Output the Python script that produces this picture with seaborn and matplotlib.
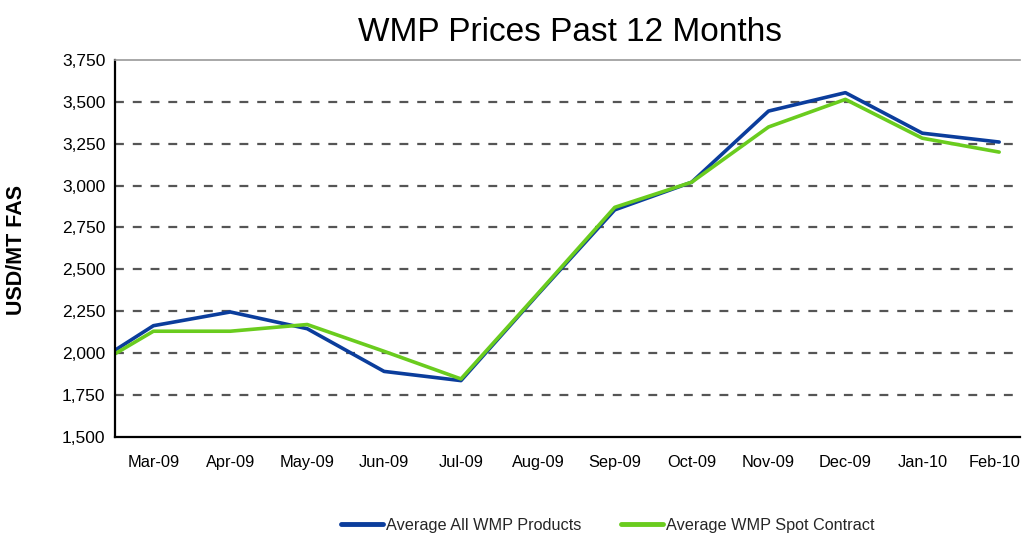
import numpy as np
import pandas as pd
import seaborn as sns
import matplotlib.pyplot as plt
import matplotlib.transforms as mtransforms
from matplotlib.ticker import FuncFormatter

# month labels shown under the axis (values sit mid-month)
months = ["Mar-09", "Apr-09", "May-09", "Jun-09", "Jul-09", "Aug-09",
          "Sep-09", "Oct-09", "Nov-09", "Dec-09", "Jan-10", "Feb-10"]

# Feb-09 lead-in value, clipped by the axis at the start of March
all_products = [1870, 2163, 2245, 2145, 1890, 1835, 2350, 2855, 3020, 3445, 3555, 3313, 3260]
spot_contract = [1860, 2130, 2130, 2170, 2010, 1845, 2355, 2870, 3020, 3350, 3515, 3283, 3200]

series_names = ["Average All WMP Products", "Average WMP Spot Contract"]
colors = ["#0b3d9c", "#6acc1e"]

# long form table for seaborn
pos = np.arange(len(all_products)) - 0.5
df = pd.DataFrame({
    "pos": np.concatenate([pos, pos]),
    "price": all_products + spot_contract,
    "series": [series_names[0]] * len(pos) + [series_names[1]] * len(pos),
})

sns.set_style("white")
plt.rcParams["font.family"] = ["Liberation Sans", "DejaVu Sans"]

fig = plt.figure(figsize=(10.23, 5.33), dpi=100)
ax = fig.add_axes([0.1124, 0.1807, 0.8846, 0.7067])

sns.lineplot(data=df, x="pos", y="price", hue="series", palette=colors,
             linewidth=2.6, ax=ax, legend=False, sort=False)

ax.set_xlim(0, 11.77)
ax.set_ylim(1500, 3750)

# month boundaries as ticks, labels centred between them
ax.set_xticks(np.arange(0, 12))
ax.set_xticklabels([])
ax.set_xticks(np.arange(len(months)) + 0.5, minor=True)
ax.set_xticklabels(months, minor=True, fontsize=11.8, color="black")
ax.tick_params(axis="x", which="major", direction="out", length=7, width=1.2, color="black")
ax.tick_params(axis="x", which="minor", length=0, pad=13)
# nudge the last label so it stays inside the canvas
last = ax.get_xticklabels(minor=True)[-1]
last.set_transform(last.get_transform() + mtransforms.ScaledTranslation(-5 / 100, 0, fig.dpi_scale_trans))

yt = np.arange(1500, 3751, 250)
ax.set_yticks(yt)
ax.yaxis.set_major_formatter(FuncFormatter(lambda v, p: f"{int(v):,}"))
ax.tick_params(axis="y", direction="inout", length=8, width=1.2, color="black",
               pad=3, labelsize=12.5, labelcolor="black")

for v in yt[1:-1]:
    ax.axhline(v, color="#555555", linestyle=(0, (4, 4)), linewidth=1.6, zorder=0)

for s in ["left", "bottom"]:
    ax.spines[s].set_color("black")
    ax.spines[s].set_linewidth(1.6)
ax.spines["right"].set_visible(False)
ax.spines["top"].set_color("#999999")
ax.spines["top"].set_linestyle((0, (1, 1)))
ax.spines["top"].set_linewidth(1.2)

ax.set_xlabel("")
ax.set_ylabel("USD/MT FAS", fontsize=15.5, fontweight="bold", color="black")
ax.yaxis.set_label_coords(-0.097, 0.495)

fig.suptitle("WMP Prices Past 12 Months", x=0.557, y=0.968, fontsize=24, color="black")

handles = [plt.Line2D([], [], color=c, linewidth=3.5) for c in colors]
fig.legend(handles, series_names, loc="center", bbox_to_anchor=(0.594, 0.014),
           ncol=2, frameon=False, handlelength=2.6, handletextpad=0.2,
           columnspacing=2.4, prop={"size": 11.7})

fig.savefig("out.png", dpi=100)
